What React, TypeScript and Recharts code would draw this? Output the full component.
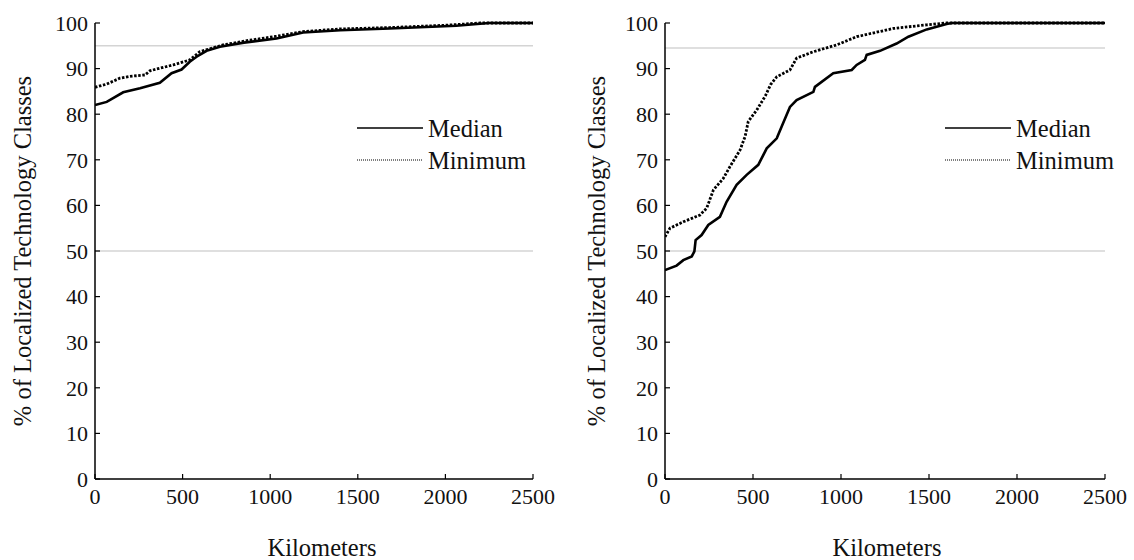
import React from 'react';
import { LineChart, Line, XAxis, YAxis, ReferenceLine } from 'recharts';

// ---- Data (Kilometers -> % of localized technology classes) ----
const xTicks = [0, 500, 1000, 1500, 2000, 2500];
const yTicks = [0, 10, 20, 30, 40, 50, 60, 70, 80, 90, 100];

const leftMedianKm = [0, 67, 161, 257, 370, 437, 494, 541, 580, 637, 713, 850, 1036, 1188, 1400, 1682, 2062, 2250, 2500];
const leftMedianPct = [82, 82.7, 84.8, 85.7, 86.9, 89.0, 89.8, 91.5, 92.6, 93.9, 94.8, 95.7, 96.6, 97.9, 98.4, 98.8, 99.4, 100, 100];

const leftMinKm = [0, 67, 142, 200, 285, 313, 351, 446, 541, 598, 731, 880, 1036, 1186, 1400, 1682, 2000, 2200, 2500];
const leftMinPct = [85.9, 86.6, 87.9, 88.3, 88.6, 89.5, 89.9, 90.8, 91.9, 93.7, 95.2, 96.2, 97.1, 98.1, 98.7, 99.0, 99.5, 100, 100];

const rightMedianKm = [0, 66, 104, 152, 167, 174, 208, 246, 312, 350, 407, 464, 530, 578, 635, 663, 710, 748, 843, 852, 956, 1061, 1089, 1136, 1146, 1222, 1316, 1383, 1487, 1600, 1630, 2500];
const rightMedianPct = [45.8, 46.8, 48, 48.8, 49.9, 52.4, 53.5, 55.7, 57.5, 60.8, 64.5, 66.7, 68.9, 72.5, 74.7, 77.3, 81.6, 83.1, 84.9, 86.0, 89.0, 89.7, 90.8, 91.9, 93.0, 93.9, 95.5, 97.0, 98.6, 99.8, 100, 100];

const rightMinKm = [0, 28, 104, 199, 237, 275, 331, 369, 426, 455, 473, 521, 570, 600, 635, 710, 748, 843, 976, 1089, 1297, 1487, 1600, 2500];
const rightMinPct = [53.1, 55, 56.4, 57.9, 59.4, 63.4, 65.9, 68.5, 72.1, 75.1, 78.4, 80.9, 84.0, 86.5, 88.2, 89.7, 92.3, 93.7, 95.2, 97.0, 98.8, 99.6, 100, 100];

const seriesNames = ['Median', 'Minimum'];
const yTitle = '% of Localized Technology Classes';
const xTitle = 'Kilometers';

const toData = (km: number[], pct: number[]) => km.map((k, i) => ({ km: k, pct: pct[i] }));

const FAMILY = '"Liberation Serif"';
const textStyle = { fontFamily: FAMILY };
const globalCss = `#root, #root svg, #root text, #root tspan { font-family: "Liberation Serif" !important; }`;

type PanelProps = {
  left: number;
  width: number;
  yAxisWidth: number;
  marginRight: number;
  median: { km: number; pct: number }[];
  minimum: { km: number; pct: number }[];
  refHigh: number;
  yTitleX: number;
  xTitleX: number;
  legendLeft: number;
};

const LegendBox = ({ left, top }: { left: number; top: number }) => (
  <svg
    width={200}
    height={64}
    style={{ position: 'absolute', left, top, display: 'block', overflow: 'visible' }}
  >
    <line x1={0} y1={15} x2={66} y2={15} stroke="#000" strokeWidth={1.6} />
    <text x={71} y={15} dominantBaseline="central" fontFamily="Liberation Serif" style={textStyle} fontSize={24.5} fill="#111">
      {seriesNames[0]}
    </text>
    <line x1={0} y1={47} x2={66} y2={47} stroke="#000" strokeWidth={1.2} strokeDasharray="1 1" />
    <text x={71} y={47} dominantBaseline="central" fontFamily="Liberation Serif" style={textStyle} fontSize={24.5} fill="#111">
      {seriesNames[1]}
    </text>
  </svg>
);

const Panel = (p: PanelProps) => {
  const H = 560;
  const top = 23;
  const xAxisH = 81;
  return (
    <div style={{ position: 'absolute', left: p.left, top: 0, width: p.width, height: H, fontFamily: FAMILY }}>
      <LineChart
        width={p.width}
        height={H}
        margin={{ top, right: p.marginRight, bottom: 0, left: 0 }}
      >
        <XAxis
          type="number"
          dataKey="km"
          domain={[0, 2500]}
          ticks={xTicks}
          allowDataOverflow
          height={xAxisH}
          axisLine={{ stroke: '#000', strokeWidth: 1.5 }}
          tickLine={{ stroke: '#000', strokeWidth: 1.2 }}
          tickSize={-5}
          tickMargin={14}
          tick={{ fill: '#111', fontSize: 22, fontFamily: 'Liberation Serif' }}
          label={(lp: any) => {
            const vb = lp.viewBox || {};
            return (
              <text
                x={p.xTitleX}
                y={(vb.y ?? 479) + 68}
                textAnchor="middle"
                dominantBaseline="central"
                fontFamily="Liberation Serif"
                style={textStyle}
                fontSize={24.5}
                fill="#111"
              >
                {xTitle}
              </text>
            );
          }}
        />
        <YAxis
          type="number"
          domain={[0, 100]}
          ticks={yTicks}
          width={p.yAxisWidth}
          axisLine={{ stroke: '#000', strokeWidth: 1.5 }}
          tickLine={{ stroke: '#000', strokeWidth: 1.2 }}
          tickSize={-5}
          tickMargin={12}
          tick={{ fill: '#111', fontSize: 22, fontFamily: 'Liberation Serif' }}
          label={() => (
            <text
              x={p.yTitleX}
              y={251}
              transform={`rotate(-90 ${p.yTitleX} 251)`}
              textAnchor="middle"
              dominantBaseline="central"
              fontFamily="Liberation Serif"
              style={textStyle}
              fontSize={24.5}
              fill="#111"
            >
              {yTitle}
            </text>
          )}
        />
        <ReferenceLine y={p.refHigh} stroke="#d4d4d4" strokeWidth={1.5} />
        <ReferenceLine y={50} stroke="#d4d4d4" strokeWidth={1.5} />
        <Line
          data={p.minimum}
          dataKey="pct"
          name={seriesNames[1]}
          type="linear"
          stroke="#000"
          strokeWidth={2.8}
          strokeDasharray="2.5 1.6"
          dot={false}
          activeDot={false}
          isAnimationActive={false}
        />
        <Line
          data={p.median}
          dataKey="pct"
          name={seriesNames[0]}
          type="linear"
          stroke="#000"
          strokeWidth={2.6}
          dot={false}
          activeDot={false}
          isAnimationActive={false}
        />
      </LineChart>
      <LegendBox left={p.legendLeft} top={113} />
    </div>
  );
};

export default function App() {
  return (
    <div
      style={{
        position: 'absolute',
        left: 0,
        top: 0,
        width: 1134,
        height: 560,
        background: '#fff',
        overflow: 'hidden',
        fontFamily: FAMILY,
      }}
    >
      <style>{globalCss}</style>
      <Panel
        left={0}
        width={567}
        yAxisWidth={95}
        marginRight={34}
        median={toData(leftMedianKm, leftMedianPct)}
        minimum={toData(leftMinKm, leftMinPct)}
        refHigh={95}
        yTitleX={22}
        xTitleX={322}
        legendLeft={357}
      />
      <Panel
        left={567}
        width={567}
        yAxisWidth={98}
        marginRight={29}
        median={toData(rightMedianKm, rightMedianPct)}
        minimum={toData(rightMinKm, rightMinPct)}
        refHigh={94.5}
        yTitleX={29}
        xTitleX={320}
        legendLeft={378}
      />
    </div>
  );
}
